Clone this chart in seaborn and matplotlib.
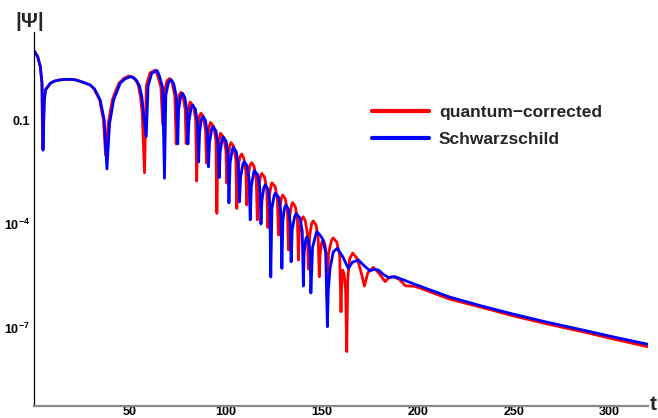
import numpy as np
import pandas as pd
import matplotlib
matplotlib.use("Agg")
import matplotlib.pyplot as plt
import seaborn as sns
from matplotlib.ticker import FixedLocator, NullFormatter

# ---- data (t, log10|Psi|) ----
t_blue = [0, 1.9, 3.3, 4.2, 4.7, 5.4, 6.0, 8.5, 10.5, 13, 15.5, 18.9, 21.5, 24, 26.5, 29.3, 31.5, 34.5, 36.6, 38.0,
          39.4, 41.5, 44.9, 47.5, 50.2, 52.0, 53.6, 55.0, 56.2, 57.1, 58.5,
          59.45, 61.35, 64.1, 65.15, 67.05, 68.0,
          68.7, 70.1, 71.4, 72.8, 74.2, 74.9,
          75.4, 76.5, 77.5, 78.6, 79.7, 80.2,
          80.8, 81.9, 82.7, 84.1, 85.2, 85.8,
          86.3, 87.3, 88.2, 89.4, 90.4, 90.9,
          91.5, 92.6, 93.2, 94.8, 95.9, 96.5,
          97.0, 98.0, 98.6, 100.1, 101.1, 101.6,
          102.2, 103.3, 103.8, 105.4, 106.5, 107.1,
          107.7, 108.8, 109.6, 111.0, 112.1, 112.7,
          113.3, 114.4, 114.8, 116.6, 117.7, 118.3,
          118.8, 119.8, 120.5, 121.9, 122.9, 123.4,
          124.0, 125.1, 125.7, 127.5, 128.6, 129.2,
          129.7, 130.6, 131.3, 132.6, 133.5, 134.0,
          134.6, 135.9, 136.6, 138.5, 139.8, 140.4,
          140.8, 141.6, 142.2, 143.1, 143.9, 144.3,
          145.2, 146.9, 147.4, 149.1, 150.3, 152.0, 152.9,
          153.4, 154.3, 156.0, 158.1, 161.0, 163.8, 166.0, 169.1, 172.0, 175.1,
          177.5, 179.5, 182.0, 184.7, 188.2, 192.0, 199.5, 216.8, 233.0, 249.8,
          268.0, 286.2, 303.0, 320.0]
logpsi_blue = [1.00, 0.83, 0.54, 0.06, -1.87, -0.42, -0.13, 0.06, 0.12, 0.155, 0.17, 0.175, 0.16, 0.12, 0.07, 0.01, -0.10, -0.42, -1.0, -2.41,
               -1.10, -0.42, 0.06, 0.19, 0.25, 0.22, 0.13, -0.02, -0.33, -0.80, -1.48,
               -0.02, 0.35, 0.43, 0.31, -0.07, -2.68,
               -0.28, 0.09, 0.17, 0.05, -0.33, -1.69,
               -0.68, -0.31, -0.23, -0.35, -0.73, -1.69,
               -1.02, -0.65, -0.57, -0.69, -1.07, -2.21,
               -1.35, -0.98, -0.90, -1.02, -1.40, -2.35,
               -1.64, -1.27, -1.19, -1.31, -1.69, -2.66,
               -1.94, -1.57, -1.49, -1.61, -1.99, -3.39,
               -2.24, -1.87, -1.79, -1.91, -2.29, -3.36,
               -2.65, -2.28, -2.20, -2.32, -2.70, -3.88,
               -2.91, -2.54, -2.46, -2.58, -2.96, -4.00,
               -3.32, -2.95, -2.87, -2.99, -3.37, -5.53,
               -3.56, -3.19, -3.11, -3.23, -3.61, -5.28,
               -3.90, -3.53, -3.45, -3.57, -3.95, -5.09,
               -4.15, -3.78, -3.70, -3.82, -4.20, -5.79,
               -4.82, -4.45, -4.37, -4.49, -4.87, -5.99,
               -4.67, -4.30, -4.22, -4.32, -4.42, -4.80, -6.96,
               -5.90, -5.28, -4.80, -4.70, -4.95, -5.28, -5.10, -5.04, -5.20, -5.35,
               -5.30, -5.33, -5.45, -5.54, -5.52, -5.60, -5.76, -6.11, -6.36, -6.60,
               -6.84, -7.06, -7.27, -7.47]

t_red = [0, 1.9, 3.3, 4.1, 4.5, 5.3, 6.0, 8.5, 10.5, 13, 15.5, 18.9, 21.5, 24, 26.5, 29.3, 31.3, 34.2, 36.2, 37.3,
         38.7, 40.8, 44.2, 46.8, 49.4, 51.3, 53.0, 54.4, 55.5, 56.4, 57.6,
         58.55, 60.45, 63.2, 64.25, 66.15, 67.1,
         67.8, 69.2, 70.6, 72.0, 73.4, 74.1,
         74.6, 75.7, 76.6, 77.7, 78.8, 79.3,
         79.85, 81.0, 81.4, 83.1, 84.25, 84.8,
         85.3, 86.3, 87.0, 88.4, 89.4, 89.9,
         90.4, 91.5, 92.0, 93.7, 94.8, 95.3,
         95.8, 96.9, 97.2, 98.9, 100.0, 100.5,
         101.0, 102.1, 102.7, 104.1, 105.2, 105.7,
         106.2, 107.3, 108.3, 109.3, 110.4, 110.9,
         111.45, 112.55, 113.5, 114.75, 115.85, 116.4,
         116.95, 118.05, 118.7, 120.25, 121.35, 121.9,
         122.45, 123.55, 124.0, 125.75, 126.85, 127.4,
         127.9, 129.0, 129.6, 131.0, 132.1, 132.6,
         133.1, 134.2, 134.8, 136.2, 137.3, 137.8,
         138.3, 139.4, 140.3, 141.4, 142.5, 143.0,
         143.6, 144.7, 145.5, 147.0, 148.1, 148.7,
         149.1, 149.9, 150.8, 151.6, 152.4, 152.8,
         153.5, 155.0, 155.9, 157.8, 159.3, 160.0,
         160.4, 160.9, 161.6, 162.4, 163.0,
         163.5, 164.5, 166.1, 168.5, 170.5, 172.2, 174.0, 176.8, 179.5, 183.0,
         185.0, 187.3, 190.5, 193.5, 198.6, 204.7, 216.8, 233.0, 249.8, 268.0,
         286.2, 303.0, 320.0]
logpsi_red = [1.00, 0.83, 0.54, 0.06, -1.81, -0.42, -0.13, 0.06, 0.12, 0.155, 0.17, 0.175, 0.16, 0.12, 0.07, 0.01, -0.10, -0.42, -1.0, -2.01,
              -1.10, -0.42, 0.06, 0.20, 0.27, 0.24, 0.15, 0.00, -0.33, -0.80, -2.52,
              -0.01, 0.36, 0.44, 0.32, -0.06, -1.14,
              -0.25, 0.12, 0.20, 0.08, -0.30, -1.69,
              -0.65, -0.28, -0.20, -0.32, -0.70, -1.68,
              -0.93, -0.56, -0.48, -0.60, -0.98, -2.76,
              -1.25, -0.88, -0.80, -0.92, -1.30, -2.24,
              -1.52, -1.15, -1.07, -1.19, -1.57, -3.69,
              -1.83, -1.46, -1.38, -1.50, -1.88, -2.82,
              -2.10, -1.73, -1.65, -1.77, -2.15, -3.55,
              -2.43, -2.06, -1.98, -2.10, -2.48, -3.45,
              -2.68, -2.31, -2.23, -2.35, -2.73, -3.88,
              -2.99, -2.62, -2.54, -2.66, -3.04, -4.10,
              -3.26, -2.89, -2.81, -2.93, -3.31, -4.32,
              -3.61, -3.24, -3.16, -3.28, -3.66, -4.75,
              -3.83, -3.46, -3.38, -3.50, -3.88, -5.04,
              -4.24, -3.87, -3.79, -3.91, -4.29, -5.30,
              -4.36, -3.99, -3.91, -4.03, -4.41, -5.52,
              -4.91, -4.54, -4.46, -4.58, -4.96, -6.13,
              -4.85, -4.48, -4.40, -4.52, -4.90, -6.53,
              -5.60, -5.33, -5.45, -5.90, -7.68,
              -5.60, -5.00, -4.84, -5.00, -5.40, -5.79, -5.40, -5.25, -5.40, -5.66,
              -5.55, -5.52, -5.60, -5.78, -5.80, -5.92, -6.17, -6.40, -6.65, -6.89,
              -7.11, -7.33, -7.54]

series_names = ["quantum\u2212corrected", "Schwarzschild"]
series_colors = ["#ff0000", "#0000ff"]

x_major = [50, 100, 150, 200, 250, 300]
x_minor = [10, 20, 30, 40, 60, 70, 80, 90, 110, 120, 130, 140, 160, 170, 180, 190,
           210, 220, 230, 240, 260, 270, 280, 290, 310]
y_major = [1e-1, 1e-4, 1e-7]
y_major_labels = ["0.1", r"$\mathbf{10^{-4}}$", r"$\mathbf{10^{-7}}$"]
y_minor = [1e1, 1e0, 1e-2, 1e-3, 1e-5, 1e-6, 1e-8, 1e-9]

df = pd.concat([
    pd.DataFrame({"t": t_red, "psi": 10.0 ** np.array(logpsi_red), "model": series_names[0]}),
    pd.DataFrame({"t": t_blue, "psi": 10.0 ** np.array(logpsi_blue), "model": series_names[1]}),
], ignore_index=True)

sns.set_theme(style="white")
plt.rcParams["font.family"] = ["Liberation Sans", "DejaVu Sans"]
plt.rcParams["mathtext.fontset"] = "custom"
plt.rcParams["mathtext.rm"] = "Liberation Sans"
plt.rcParams["mathtext.bf"] = "Liberation Sans:bold"

W, H = 658, 418
fig = plt.figure(figsize=(W / 100, H / 100), dpi=100)
x0, x1, ytop, ybot = 34, 648, 32, 406
ax = fig.add_axes([x0 / W, 1 - ybot / H, (x1 - x0) / W, (ybot - ytop) / H])

sns.lineplot(data=df, x="t", y="psi", hue="model", hue_order=series_names,
             palette=dict(zip(series_names, series_colors)), sort=False,
             estimator=None, linewidth=2.0, ax=ax)

ax.set_yscale("log")
ax.set_xlim(0, 320)
ax.set_ylim(10 ** -9.25, 10 ** 1.54)

ax.xaxis.set_major_locator(FixedLocator(x_major))
ax.xaxis.set_minor_locator(FixedLocator(x_minor))
ax.set_xticklabels([str(v) for v in x_major])
ax.yaxis.set_major_locator(FixedLocator(y_major))
ax.yaxis.set_minor_locator(FixedLocator(y_minor))
ax.yaxis.set_minor_formatter(NullFormatter())
ax.set_yticklabels(y_major_labels)

for s in ["top", "right"]:
    ax.spines[s].set_visible(False)
ax.spines["left"].set_color("black")
ax.spines["left"].set_linewidth(0.9)
ax.spines["bottom"].set_color("#888888")
ax.spines["bottom"].set_linewidth(1.6)

ax.tick_params(axis="both", which="both", direction="in", colors="black",
               labelsize=9, width=0.8)
ax.tick_params(axis="both", which="major", length=5)
ax.tick_params(axis="both", which="minor", length=3)
ax.tick_params(axis="x", which="both", color="#555555", pad=0.3)
ax.tick_params(axis="y", pad=3)
for lab in ax.get_xticklabels() + ax.get_yticklabels():
    lab.set_fontweight("bold")

ax.set_xlabel("")
ax.set_ylabel("")
fig.text(15 / W, 1 - 27 / H, "|\u03a8|", fontsize=15, fontweight="bold",
         ha="left", va="baseline")
fig.text(650 / W, 1 - 410 / H, "t", fontsize=15, fontweight="bold",
         ha="left", va="baseline")

leg = ax.legend(loc="center left", bbox_to_anchor=(372 / W, 1 - 126 / H),
                bbox_transform=fig.transFigure, frameon=False,
                prop={"weight": "bold", "size": 12.5},
                handlelength=3.3, handletextpad=0.55, labelspacing=0.68,
                borderpad=0, borderaxespad=0)
for line in leg.get_lines():
    line.set_linewidth(3.0)

fig.savefig("out.png", dpi=100)
